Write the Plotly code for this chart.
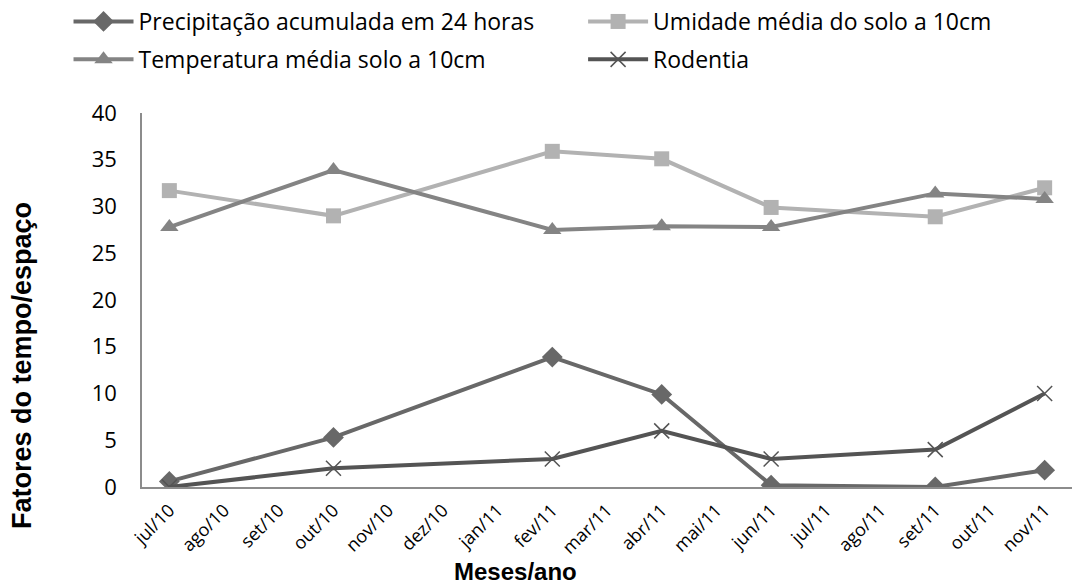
import plotly.graph_objects as go

months = ["jul/10", "ago/10", "set/10", "out/10", "nov/10", "dez/10", "jan/11", "fev/11",
          "mar/11", "abr/11", "mai/11", "jun/11", "jul/11", "ago/11", "set/11", "out/11", "nov/11"]

precipitacao = [0.6, None, None, 5.3, None, None, None, 13.9, None, 9.9, None, 0.2, None, None, 0.0, None, 1.8]
umidade = [31.7, None, None, 29.0, None, None, None, 35.9, None, 35.1, None, 29.9, None, None, 28.9, None, 32.0]
temperatura = [27.8, None, None, 33.9, None, None, None, 27.5, None, 27.9, None, 27.8, None, None, 31.4, None, 30.8]
rodentia = [0, None, None, 2, None, None, None, 3, None, 6, None, 3, None, None, 4, None, 10]

series = [
    ("Precipitação acumulada em 24 horas", precipitacao, "#686868", "diamond", 16, "legend"),
    ("Umidade média do solo a 10cm", umidade, "#b2b2b2", "square", 15, "legend2"),
    ("Temperatura média solo a 10cm", temperatura, "#848484", "triangle-up", 16, "legend"),
    ("Rodentia", rodentia, "#545454", "x-thin-open", 15, "legend2"),
]

fig = go.Figure()
for i, (name, vals, color, sym, size, leg) in enumerate(series):
    marker = dict(symbol=sym, size=size, color=color)
    if sym == "x-thin-open":
        marker["line"] = dict(color=color, width=1.5)
    fig.add_trace(go.Scatter(
        x=months, y=vals, name=name, mode="lines+markers",
        connectgaps=True, line=dict(color=color, width=4), marker=marker,
        legend=leg, legendgroup=f"g{i}",
    ))

legend_common = dict(
    orientation="v", xref="container", yref="container",
    xanchor="left", yanchor="top", itemwidth=60,
    font=dict(size=23, family="Open Sans, Lato, sans-serif", color="black"),
    tracegroupgap=5, traceorder="grouped", bgcolor="rgba(0,0,0,0)",
)

fig.update_layout(
    width=1079, height=586,
    margin=dict(l=142, r=7, t=113, b=99, autoexpand=False),
    paper_bgcolor="white", plot_bgcolor="white",
    font=dict(family="Open Sans, Lato, sans-serif", color="black"),
    legend=dict(x=0.0635, y=1.0, **legend_common),
    legend2=dict(x=0.5404, y=1.0, **legend_common),
    showlegend=True,
)
fig.update_xaxes(
    type="category", categoryorder="array", categoryarray=months,
    range=[-0.5, 16.5], tickangle=-45, tickfont=dict(size=18),
    showline=True, linecolor="#8c8c8c", linewidth=1.5, showgrid=False, ticks="",
    automargin=False, ticklabelstandoff=4,
)
fig.update_yaxes(
    range=[0, 40], dtick=5, tickfont=dict(size=22),
    showline=True, linecolor="#8c8c8c", linewidth=1.5, showgrid=False, ticks="",
    zeroline=False, automargin=False, ticklabelstandoff=19,
)
fig.add_annotation(
    text="<b>Fatores do tempo/espaço</b>", textangle=-90,
    xref="paper", yref="paper", x=(22 - 142) / 930, y=(487 - 366) / 374,
    xanchor="center", yanchor="middle", showarrow=False,
    font=dict(size=27, family="Liberation Sans, Arial, sans-serif", color="black"),
)
fig.add_annotation(
    text="<b>Meses/ano</b>",
    xref="paper", yref="paper", x=(515 - 142) / 930, y=(487 - 571) / 374,
    xanchor="center", yanchor="middle", showarrow=False,
    font=dict(size=24, family="Liberation Sans, Arial, sans-serif", color="black"),
)

fig.write_html("out.html", config={"displayModeBar": False},
               post_script="document.body.style.margin='0';")
